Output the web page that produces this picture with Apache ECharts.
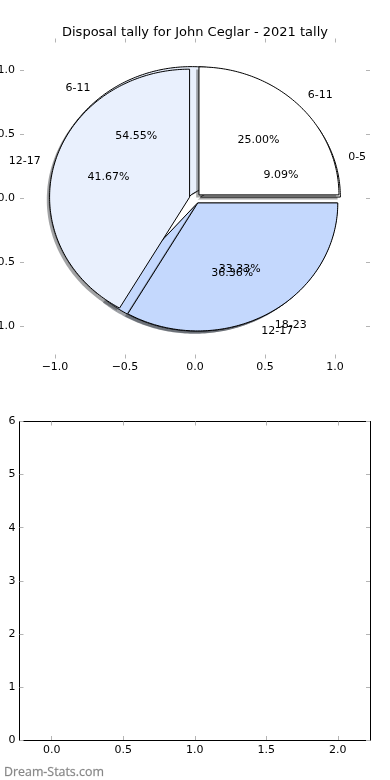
<!DOCTYPE html>
<html><head><meta charset="utf-8">
<script src="https://cdn.jsdelivr.net/npm/echarts@6/dist/echarts.min.js"></script>
<style>html,body{margin:0;padding:0;background:#fff}#c{width:390px;height:780px}</style>
</head><body><div id="c"></div>
<script>
// ---- data ----
const TITLE = 'Disposal tally for John Ceglar - 2021 tally';
const WATERMARK = 'Dream-Stats.com';
const PIE1_LABELS = ['0-5', '6-11', '12-17'];
const PIE1_VALUES = [1, 6, 4];
const PIE2_LABELS = ['6-11', '12-17', '18-23'];
const PIE2_VALUES = [3, 5, 4];
const PIE_TICKS = [-1, -0.5, 0, 0.5, 1];
const BAR_X_TICKS = [0, 0.5, 1, 1.5, 2];
const BAR_Y_TICKS = [0, 1, 2, 3, 4, 5, 6];

// ---- style ----
const SLICE_COLORS = ['#ffffff', '#e9f0fd', '#c4d8fd'];
const EXPLODE = 0.04, R = 1, SHADOW_OFF = -0.02;
const FONT = 'DejaVu Sans';
const TICK_COLOR = '#b4b4b4';

function pct(v) { return v.toFixed(2) + '%'; }
function fmt1(v) { return (v < 0 ? '\u2212' : '') + Math.abs(v).toFixed(1); }

function geom(values, i) {
  const total = values.reduce((a, b) => a + b, 0);
  let s = 0; for (let k = 0; k < i; k++) s += values[k];
  const t1 = s / total * 360, t2 = (s + values[i]) / total * 360;
  const tm = (t1 + t2) / 2, rad = Math.PI / 180;
  return { t1, t2, tm, share: values[i] / total * 100,
    cx: EXPLODE * Math.cos(tm * rad), cy: EXPLODE * Math.sin(tm * rad) };
}
function wedgePts(api, values, i, dx, dy) {
  const g = geom(values, i), rad = Math.PI / 180;
  const cx = g.cx + dx, cy = g.cy + dy;
  const pts = [api.coord([cx, cy])];
  const n = Math.max(4, Math.ceil(g.t2 - g.t1));
  for (let k = 0; k <= n; k++) {
    const a = (g.t1 + (g.t2 - g.t1) * k / n) * rad;
    pts.push(api.coord([cx + R * Math.cos(a), cy + R * Math.sin(a)]));
  }
  return pts;
}
function shadowColor(hex) {
  const c = parseInt(hex.slice(1), 16);
  const r = Math.round(((c >> 16) & 255) * 0.3), g = Math.round(((c >> 8) & 255) * 0.3), b = Math.round((c & 255) * 0.3);
  return 'rgba(' + r + ',' + g + ',' + b + ',0.5)';
}
function shadowSeries(values) {
  return { type: 'custom', xAxisIndex: 0, yAxisIndex: 0, silent: true, clip: false,
    data: values.map((v, i) => [i, v]),
    renderItem: (p, api) => ({ type: 'polygon',
      shape: { points: wedgePts(api, values, p.dataIndex, SHADOW_OFF, SHADOW_OFF) },
      style: { fill: shadowColor(SLICE_COLORS[p.dataIndex]), stroke: null } }) };
}
function wedgeSeries(values) {
  return { type: 'custom', xAxisIndex: 0, yAxisIndex: 0, silent: true, clip: false,
    data: values.map((v, i) => [i, v]),
    renderItem: (p, api) => ({ type: 'polygon',
      shape: { points: wedgePts(api, values, p.dataIndex, 0, 0) },
      style: { fill: SLICE_COLORS[p.dataIndex], stroke: '#000', lineWidth: 1, lineJoin: 'round' } }) };
}
function labelSeries(values, labels) {
  return { type: 'custom', xAxisIndex: 0, yAxisIndex: 0, silent: true, clip: false,
    data: values.map((v, i) => [i, v]),
    renderItem: (p, api) => {
      const g = geom(values, p.dataIndex), rad = Math.PI / 180;
      const ca = Math.cos(g.tm * rad), sa = Math.sin(g.tm * rad);
      const lp = api.coord([g.cx + 1.1 * R * ca, g.cy + 1.1 * R * sa]);
      const pp = api.coord([g.cx + 0.6 * R * ca, g.cy + 0.6 * R * sa]);
      const xt = g.cx + 1.1 * R * ca;
      return { type: 'group', children: [
        { type: 'text', x: lp[0], y: lp[1], style: { text: labels[p.dataIndex], fill: '#000',
          font: '11px "' + FONT + '"', align: xt > 0 ? 'left' : 'right', verticalAlign: 'middle' } },
        { type: 'text', x: pp[0], y: pp[1], style: { text: pct(g.share), fill: '#000',
          font: '11px "' + FONT + '"', align: 'center', verticalAlign: 'middle' } }
      ] };
    } };
}

function axisCommon(ticks, showLabel, fmt, line, margin) {
  return {
    axisLine: { show: line, onZero: false, lineStyle: { color: '#000', width: 1 } },
    axisTick: { show: true, inside: true, length: 4, customValues: ticks, lineStyle: { color: TICK_COLOR, width: 1 } },
    axisLabel: { show: showLabel, customValues: ticks, formatter: fmt, color: '#000', fontSize: 11, fontFamily: FONT, margin: margin },
    splitLine: { show: false }
  };
}

const chart = echarts.init(document.getElementById('c'), null, { renderer: 'canvas' });
chart.setOption({
  animation: false,
  backgroundColor: '#fff',
  title: [
    { text: TITLE, left: 'center', top: 21, textStyle: { fontFamily: FONT, fontSize: 13, fontWeight: 'normal', color: '#000' } },
    { text: WATERMARK, left: -1, top: 761, textStyle: { fontFamily: 'Open Sans', fontSize: 12.4, fontWeight: 'normal', color: '#858585',
      textBorderColor: 'rgba(133,133,133,0.5)', textBorderWidth: 0.4 } }
  ],
  grid: [
    { left: 20, top: 38.5, width: 350, height: 320, containLabel: false, outerBoundsMode: 'none' },
    { left: 19.5, top: 421.5, width: 350.5, height: 318.5, containLabel: false, outerBoundsMode: 'none' }
  ],
  xAxis: [
    Object.assign({ type: 'value', gridIndex: 0, position: 'bottom', min: -1.25, max: 1.25 }, axisCommon(PIE_TICKS, true, fmt1, false, 3)),
    Object.assign({ type: 'value', gridIndex: 0, position: 'top', min: -1.25, max: 1.25 }, axisCommon(PIE_TICKS, false, fmt1, false, 3)),
    Object.assign({ type: 'value', gridIndex: 1, position: 'bottom', min: -0.225, max: 2.225 }, axisCommon(BAR_X_TICKS, true, fmt1, true, 5)),
    Object.assign({ type: 'value', gridIndex: 1, position: 'top', min: -0.225, max: 2.225 }, axisCommon(BAR_X_TICKS, false, fmt1, true, 5))
  ],
  yAxis: [
    Object.assign({ type: 'value', gridIndex: 0, position: 'left', min: -1.25, max: 1.25 }, axisCommon(PIE_TICKS, true, fmt1, false, 5)),
    Object.assign({ type: 'value', gridIndex: 0, position: 'right', min: -1.25, max: 1.25 }, axisCommon(PIE_TICKS, false, fmt1, false, 5)),
    Object.assign({ type: 'value', gridIndex: 1, position: 'left', min: 0, max: 6 }, axisCommon(BAR_Y_TICKS, true, v => String(v), true, 4)),
    Object.assign({ type: 'value', gridIndex: 1, position: 'right', min: 0, max: 6 }, axisCommon(BAR_Y_TICKS, false, v => String(v), true, 4))
  ],
  series: [
    shadowSeries(PIE1_VALUES),
    wedgeSeries(PIE1_VALUES),
    shadowSeries(PIE2_VALUES),
    wedgeSeries(PIE2_VALUES),
    labelSeries(PIE1_VALUES, PIE1_LABELS),
    labelSeries(PIE2_VALUES, PIE2_LABELS)
  ]
});
</script></body></html>
